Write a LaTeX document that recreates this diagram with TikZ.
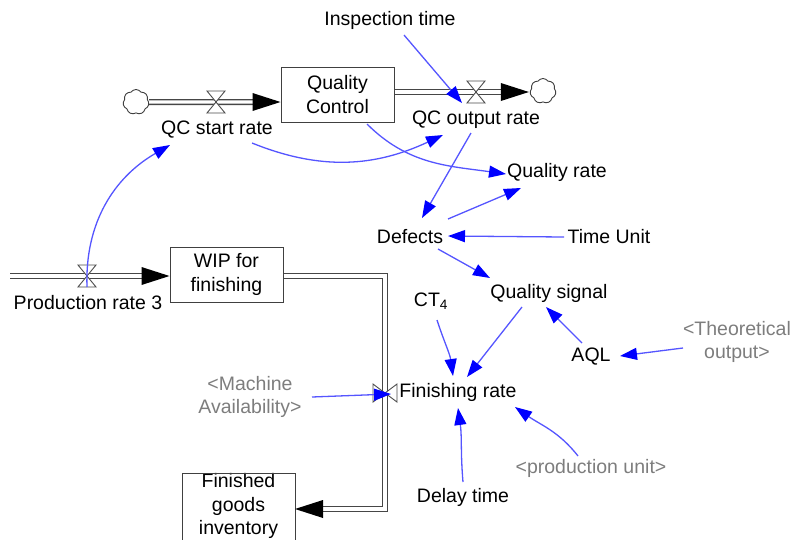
\documentclass[tikz,border=0pt]{standalone}
\usepackage{fontspec}
\setmainfont{Liberation Sans}
\usetikzlibrary{arrows.meta,shapes.symbols,calc}

\definecolor{linkblue}{RGB}{85,85,255}
\definecolor{tipblue}{RGB}{0,0,255}
\definecolor{pipegray}{RGB}{70,70,70}
\definecolor{shadowtext}{RGB}{125,125,125}

\tikzset{
  lbl/.style={font=\fontsize{19.5}{23.5}\selectfont, inner sep=1pt, align=center},
  ghost/.style={lbl, text=shadowtext},
  stock/.style={lbl, draw=black!75, line width=1pt, fill=white,
    minimum width=113pt, minimum height=55pt},
  pipe/.style={draw=pipegray, line width=1.3pt, double=white,
    double distance=3.4pt, line join=miter},
  pipetip/.style={fill=black},
  link/.style={draw=linkblue, line width=1.3pt,
    -{Triangle[length=17pt,width=12pt,fill=tipblue,color=tipblue]}},
  cloudn/.style={cloud, cloud puffs=7, cloud puff arc=110, cloud ignores aspect,
    draw=black!75, line width=0.9pt, fill=white, minimum width=26pt,
    minimum height=25pt, inner sep=0pt},
  pics/valveV/.style={code={
    \filldraw[draw=black!70, fill=white, line width=0.9pt, line join=miter]
      (-9,11) -- (9,11) -- (-9,-11) -- (9,-11) -- cycle;}},
  pics/valveH/.style={code={
    \filldraw[draw=black!70, fill=white, line width=0.9pt, line join=miter]
      (-12,9) -- (-12,-9) -- (12,9) -- (12,-9) -- cycle;}},
}

\begin{document}
\begin{tikzpicture}[x=1pt,y=1pt]
\useasboundingbox (0,0) rectangle (796,-539);

% stocks
\node[stock] (qc) at (337.5,-94.5) {Quality\\Control};
\node[stock] (wip) at (226.5,-274.5) {WIP for\\finishing};
\node[lbl] (fgi) at (238.5,-506) {Finished\\goods\\inventory};
\draw[draw=black!75, line width=1pt] (182,-560) |- (295,-473) -- (295,-560);
\coordinate (fgin) at (295,-509);

% clouds and flow end points
\node[cloudn] (c1) at (136,-102) {};
\node[cloudn] (c2) at (543,-91) {};
\coordinate (src) at (10,-276);

% valve positions
\coordinate (v1) at (216,-102);
\coordinate (v2) at (476,-92);
\coordinate (v3) at (87,-276);
\coordinate (v4) at (385,-393);

% flows (pipes)
\draw[pipe] (c1.east) -- ([xshift=-26]qc.west |- c1);
\fill[pipetip] (qc.west |- c1) -- ++(-28,9) -- ++(0,-18) -- cycle;

\draw[pipe] (qc.east |- v2) -- ([xshift=-26]c2.west |- v2);
\fill[pipetip] ([xshift=-1]c2.west |- v2) -- ++(-28,9) -- ++(0,-18) -- cycle;

\draw[pipe] (src) -- ([xshift=-26]wip.west |- src);
\fill[pipetip] (wip.west |- src) -- ++(-28,9) -- ++(0,-18) -- cycle;

\draw[pipe] (wip.east |- src) -| (v4) |- ([xshift=26]fgin);
\fill[pipetip] (fgin) -- ++(28,9) -- ++(0,-18) -- cycle;

% valves
\pic at (v1) {valveV};
\pic at (v2) {valveV};
\pic at (v3) {valveV};
\pic at (v4) {valveH};

% variables
\node[lbl] (insp) at (390,-20) {Inspection time};
\node[lbl] (qcs) at (217,-130) {QC start rate};
\node[lbl] (qco) at (476,-120) {QC output rate};
\node[lbl] (qr) at (557,-172) {Quality rate};
\node[lbl] (def) at (410,-237) {Defects};
\node[lbl] (tu) at (609,-237) {Time Unit};
\node[lbl] (qs) at (549,-293) {Quality signal};
\node[lbl] (ct) at (431,-301) {CT\textsubscript{4}};
\node[lbl] (aql) at (591,-357) {AQL};
\node[ghost] (theo) at (737,-342) {<Theoretical\\output>};
\node[lbl] (fr) at (458,-392) {Finishing rate};
\node[ghost] (mach) at (250,-397) {<Machine\\Availability>};
\node[ghost] (pu) at (591,-468) {<production unit>};
\node[lbl] (dt) at (463,-497) {Delay time};
\node[lbl] (pr3) at (88,-303) {Production rate 3};

% information links
\draw[link] ([shift={(14,-15)}]insp.center) -- ([shift={(-14,-11)}]v2);
\draw[link] ([shift={(35,-13)}]qcs.center) to[out=-22,in=205] ([shift={(-33,-15)}]qco.center);
\draw[link] ([shift={(29.5,-29.5)}]qc.center) to[out=-45,in=172] ([shift={(-51,-2)}]qr.center);
\draw[link] ([shift={(-5,-13)}]qco.center) -- ([shift={(12,19)}]def.center);
\draw[link] ([shift={(38,18)}]def.center) -- ([shift={(-36,-16)}]qr.center);
\draw[link] ([shift={(-45,0)}]tu.center) -- ([shift={(38,1)}]def.center);
\draw[link] ([shift={(28,-12)}]def.center) -- ([shift={(-59,15)}]qs.center);
\draw[link] ([shift={(-9,14)}]aql.center) -- ([shift={(-3,-14)}]qs.center);
\draw[link] ([shift={(-54,-6)}]theo.center) -- ([shift={(29,1)}]aql.center);
\draw[link] ([shift={(-27,-14)}]qs.center) -- ([shift={(9,15)}]fr.center);
\draw[link] ([shift={(6,-19)}]ct.center) to[out=-72,in=98] ([shift={(-5,16)}]fr.center);
\draw[link] ([shift={(-13,12)}]pu.center) to[out=128,in=-35] ([shift={(57,-15)}]fr.center);
\draw[link] ([shift={(0,15)}]dt.center) to[out=95,in=-82] ([shift={(0,-16)}]fr.center);
\draw[link] ([shift={(62,0)}]mach.center) -- ([shift={(6,-1)}]v4);
\draw[link] ([yshift=-11]v3) to[out=92,in=-150] ([shift={(-47,-15)}]qcs.center);

\end{tikzpicture}
\end{document}
